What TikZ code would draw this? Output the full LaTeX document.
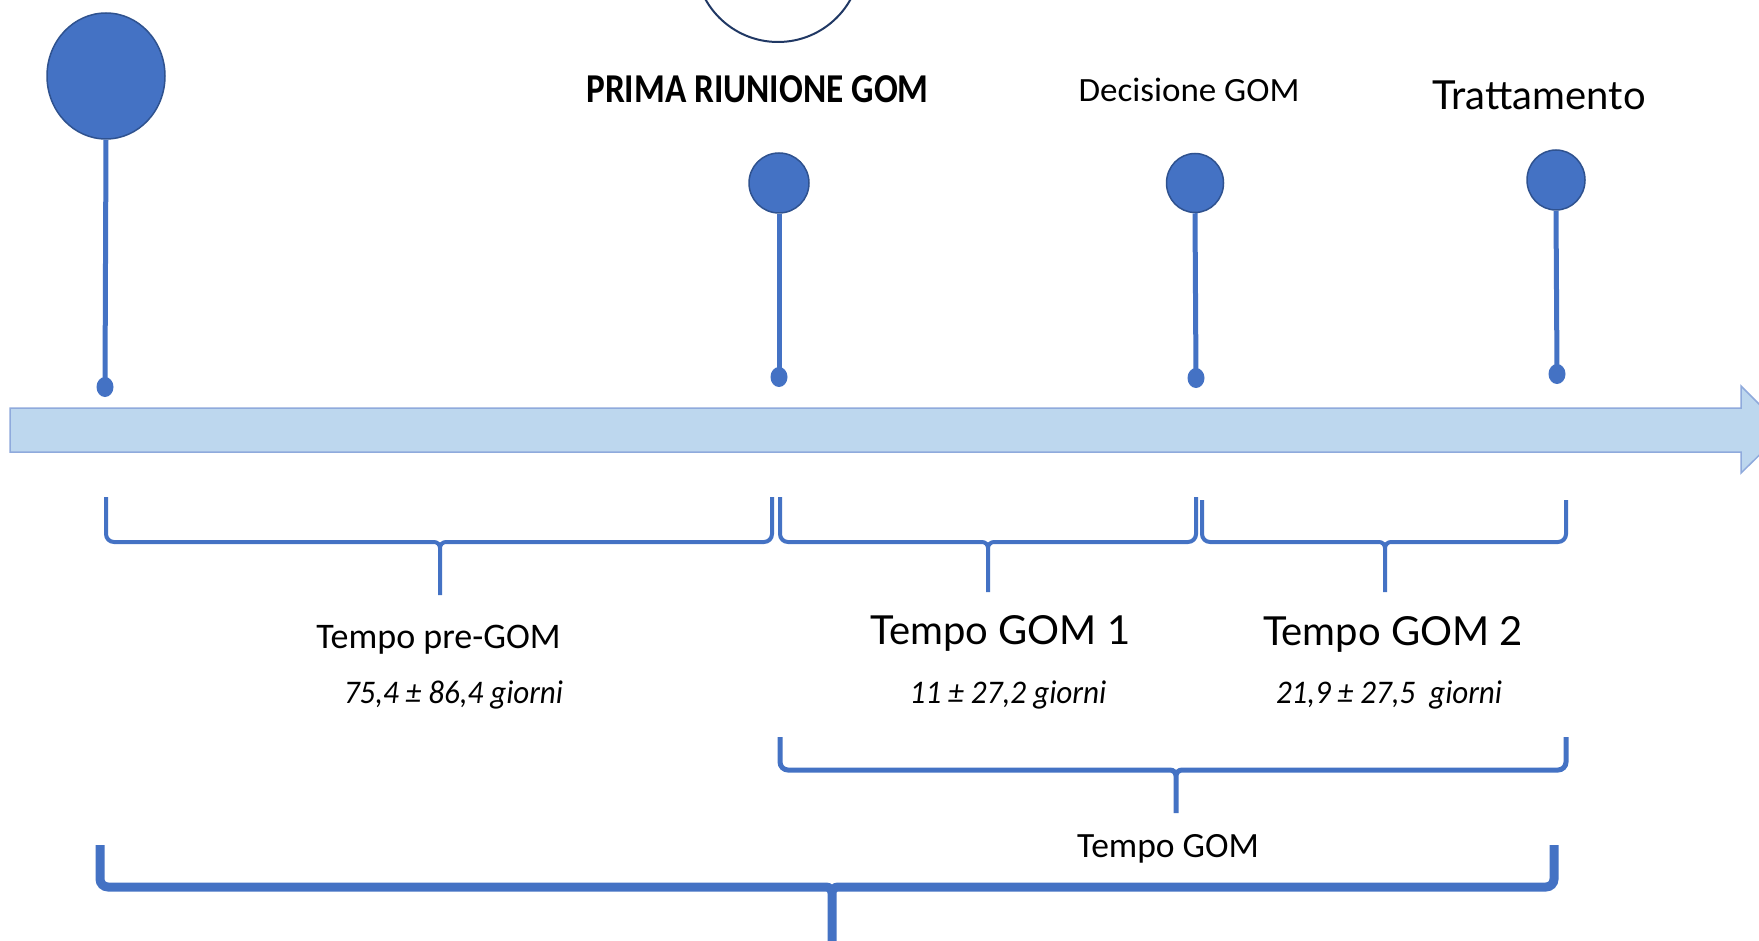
\documentclass[tikz,border=0pt]{standalone}
\usepackage{graphicx}
\usepackage{fontspec}
\setmainfont{Carlito}
\newfontfamily\gillfont{Lato}
\usetikzlibrary{shapes.geometric}
\definecolor{pinblue}{HTML}{4472C4}
\definecolor{pinedge}{HTML}{2F528F}
\definecolor{barfill}{HTML}{BDD7EE}
\definecolor{baredge}{HTML}{8FAADC}
\definecolor{navyline}{HTML}{203864}
\newcommand\gombrace[7]{% x1, x2, xm, ytop, yh, ybot, line width
  \draw[bracestyle, line width=#7]
    (#1,#4) -- (#1,#5-8) to[out=-90,in=180] (#1+8,#5) -- (#3-6,#5)
    to[out=0,in=90] (#3,#5+6) -- (#3,#6)
    (#3,#5+6) to[out=90,in=180] (#3+6,#5) -- (#2-8,#5)
    to[out=0,in=-90] (#2,#5-8) -- (#2,#4);}
\newcommand\squeeze[2]{\scalebox{#1}[1]{#2}}
\begin{document}
\begin{tikzpicture}[x=1pt,y=-1pt,
  pinhead/.style={ellipse, fill=pinblue, draw=pinedge, line width=1.5pt, inner sep=0pt},
  pindot/.style={ellipse, fill=pinblue, draw=none, minimum width=17pt, minimum height=20pt, inner sep=0pt},
  stem/.style={draw=pinblue, line width=5pt},
  bracestyle/.style={draw=pinblue, line cap=butt},
  calibri/.style={font=\fontsize{34}{40}\selectfont, text=black, inner sep=0pt, anchor=base},
  gill/.style={font=\gillfont\fontsize{40}{46}\selectfont, text=black, inner sep=0pt, anchor=base},
  dur/.style={font=\itshape\fontsize{33}{40}\selectfont, text=black, inner sep=0pt, anchor=base}]
\useasboundingbox (0,0) rectangle (1759,941);
\clip (0,0) rectangle (1759,941);
\fill[white] (0,0) rectangle (1759,941);

% timeline arrow
\draw[fill=barfill, draw=baredge, line width=1.5pt]
  (10,408) -- (1741,408) -- (1741,386) -- (1785,430) -- (1741,473) -- (1741,452) -- (10,452) -- cycle;

% partial circle at top
\draw[navyline, line width=2pt] (778,-41) circle[radius=83];

% pins
\node[pinhead, minimum width=118pt, minimum height=126pt] (p1) at (106,76) {};
\node[pinhead, minimum width=60pt, minimum height=60pt] (p2) at (779,183) {};
\node[pinhead, minimum width=57pt, minimum height=59pt] (p3) at (1195,183) {};
\node[pinhead, minimum width=58pt, minimum height=60pt] (p4) at (1556,180) {};
\node[pindot] (d1) at (105,387) {};
\node[pindot] (d2) at (779,377) {};
\node[pindot] (d3) at (1196,378) {};
\node[pindot] (d4) at (1557,374) {};
\draw[stem] (p1.south) -- (d1.center);
\draw[stem] (p2.south) -- (d2.center);
\draw[stem] (p3.south) -- (d3.center);
\draw[stem] (p4.south) -- (d4.center);

% top labels
\node[calibri, font=\bfseries\fontsize{41}{48}\selectfont] (l2) at (757.5,103) {\squeeze{0.86}{PRIMA RIUNIONE GOM}};
\node[calibri] (l3) at (1189,102) {\squeeze{1.03}{Decisione GOM}};
\node[gill] (l4) at (1539,110) {Trattamento};

% braces
\gombrace{106}{772}{440}{497}{542}{595}{4pt}
\gombrace{780}{1196}{988}{497}{542}{592}{4pt}
\gombrace{1202}{1566}{1385}{500}{542}{592}{4pt}
\gombrace{780}{1566}{1176}{737}{770}{813}{5pt}
\gombrace{100}{1554}{832}{845}{887}{960}{9pt}

% brace labels
\node[calibri, font=\fontsize{36}{42}\selectfont] (b1) at (438.5,648) {Tempo pre-GOM};
\node[dur] (v1) at (453.5,703) {\squeeze{0.94}{75,4 ± 86,4 giorni}};
\node[gill] (b2) at (1000.5,644) {Tempo GOM 1};
\node[dur] (v2) at (1008,703) {\squeeze{0.945}{11 ± 27,2 giorni}};
\node[gill] (b3) at (1393,645) {Tempo GOM 2};
\node[dur] (v3) at (1389,703) {\squeeze{0.94}{21,9 ± 27,5\ \ giorni}};
\node[calibri, font=\fontsize{35.5}{42}\selectfont] (b4) at (1168,857) {Tempo GOM};
\end{tikzpicture}
\end{document}
